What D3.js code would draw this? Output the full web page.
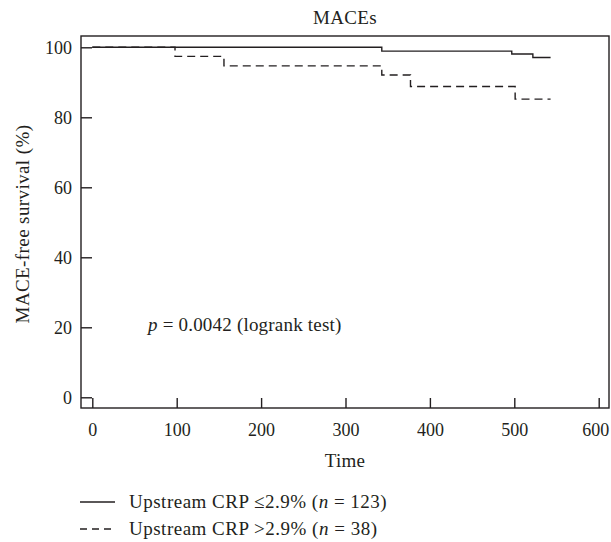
<!DOCTYPE html>
<html>
<head>
<meta charset="utf-8">
<script src="https://cdn.jsdelivr.net/npm/d3@7"></script>
<style>
body { margin: 0; background: #fff; }
svg { display: block; }
text { font-family: "Liberation Serif", "DejaVu Serif", serif; fill: #231f20; }
</style>
</head>
<body>
<svg id="chart" width="611" height="542"></svg>
<script>
// Data
const xTicks = [0, 100, 200, 300, 400, 500, 600];
const yTicks = [0, 20, 40, 60, 80, 100];
const lowCrpTimes = [0, 343, 497, 522, 543];
const lowCrpSurvival = [100, 98.9, 98.1, 97.1, 97.1];
const highCrpTimes = [0, 98, 156, 343, 377, 501, 543];
const highCrpSurvival = [100, 97.4, 94.7, 92.1, 88.8, 85.2, 85.2];
const legendLabels = ["Upstream CRP \u22642.9% (", "Upstream CRP >2.9% ("];
const legendN = ["123", "38"];

const svg = d3.select("#chart");
const box = { left: 81, top: 36, right: 609, bottom: 408 };
const x = d3.scaleLinear().domain([0, 600]).range([92.3, 598.7]);
const y = d3.scaleLinear().domain([0, 100]).range([397.3, 47.3]);
const ink = "#231f20";
const fs = 19;

// frame
svg.append("rect")
  .attr("x", box.left).attr("y", box.top)
  .attr("width", box.right - box.left).attr("height", box.bottom - box.top)
  .attr("fill", "none").attr("stroke", ink).attr("stroke-width", 1.4);

// axes (inward ticks)
const xAxis = svg.append("g").attr("transform", `translate(0,${box.bottom})`)
  .call(d3.axisBottom(x).tickValues(xTicks).tickSize(-10).tickPadding(15).tickFormat(d3.format("d")));
const yAxis = svg.append("g").attr("transform", `translate(${box.left},0)`)
  .call(d3.axisLeft(y).tickValues(yTicks).tickSize(-11).tickPadding(9).tickFormat(d3.format("d")));
[xAxis, yAxis].forEach(g => {
  g.attr("font-family", null).attr("font-size", null);
  g.select(".domain").remove();
  g.selectAll(".tick line").attr("stroke", ink).attr("stroke-width", 1.4);
  g.selectAll(".tick text").attr("font-size", 18).attr("fill", ink);
});
yAxis.selectAll(".tick text").attr("dy", "0.32em");
// keep the last x label inside the picture
xAxis.selectAll(".tick text").filter(d => d === 600).attr("dx", -3.5);

// survival curves
const line = d3.line().curve(d3.curveStepAfter).x(d => x(d[0])).y(d => y(d[1]));
const highData = highCrpTimes.map((t, i) => [t, highCrpSurvival[i]]);
const lowData = lowCrpTimes.map((t, i) => [t, lowCrpSurvival[i]]);
svg.append("path").datum(highData).attr("d", line)
  .attr("fill", "none").attr("stroke", ink).attr("stroke-width", 1.4)
  .attr("stroke-dasharray", "8,5");
svg.append("path").datum(lowData).attr("d", line)
  .attr("fill", "none").attr("stroke", ink).attr("stroke-width", 1.4);

// title & axis labels
svg.append("text").attr("x", 345).attr("y", 24).attr("text-anchor", "middle")
  .attr("font-size", fs).attr("letter-spacing", 0.3).text("MACEs");
svg.append("text").attr("x", 345).attr("y", 467).attr("text-anchor", "middle")
  .attr("font-size", fs).attr("letter-spacing", 0.3).text("Time");
svg.append("text").attr("transform", "translate(29,224) rotate(-90)")
  .attr("text-anchor", "middle").attr("font-size", fs).attr("letter-spacing", 0.4)
  .text("MACE-free survival (%)");

// p-value
const pt = svg.append("text").attr("x", 148).attr("y", 331).attr("font-size", fs)
  .attr("letter-spacing", 0.2);
pt.append("tspan").attr("font-style", "italic").text("p");
pt.append("tspan").text(" = 0.0042 (logrank test)");

// legend
const legY = [502, 529];
legY.forEach((ly, i) => {
  svg.append("line").attr("x1", 80).attr("x2", 115).attr("y1", ly).attr("y2", ly)
    .attr("stroke", ink).attr("stroke-width", 1.4)
    .attr("stroke-dasharray", i === 1 ? "7,5" : null);
  const t = svg.append("text").attr("x", 129).attr("y", ly + 6).attr("font-size", fs)
    .attr("letter-spacing", 0.5);
  t.append("tspan").text(legendLabels[i]);
  t.append("tspan").attr("font-style", "italic").text("n");
  t.append("tspan").text(" = " + legendN[i] + ")");
});
</script>
</body>
</html>
